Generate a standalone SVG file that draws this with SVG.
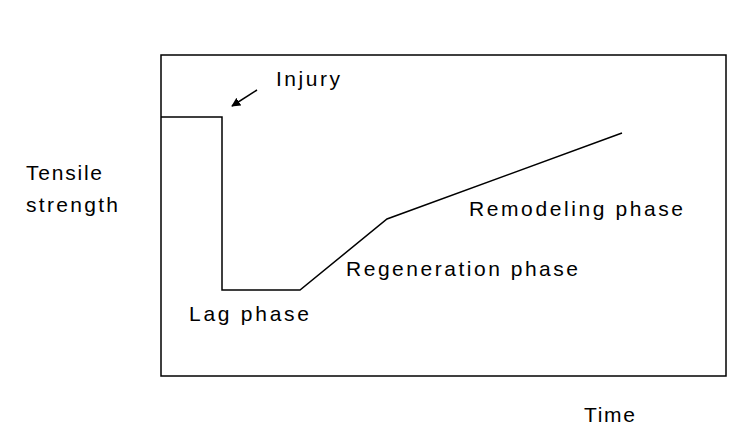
<svg xmlns="http://www.w3.org/2000/svg" width="729" height="441" viewBox="0 0 729 441">
<style>text{font-family:"Liberation Sans",Arial,sans-serif;font-size:21px;fill:#000}</style>
<defs><marker id="ah" viewBox="0 0 10 10" refX="9" refY="5" markerWidth="6" markerHeight="6" orient="auto"><path d="M0,0L10,5L0,10z" fill="#000"/></marker></defs>
<rect width="729" height="441" fill="#fff"/>
<rect id="frame" x="161" y="55" width="565" height="321" fill="none" stroke="#000" stroke-width="1.5"/>
<g id="connectors" fill="none" stroke="#000" stroke-width="1.5">
<polyline points="161,117 222,117 222,290 300,290 387,219 622,133"/>
<line x1="257" y1="90" x2="232" y2="106" marker-end="url(#ah)"/>
</g>
<g id="labels">
<text x="276" y="86" textLength="64">Injury</text>
<text x="26" y="180" textLength="76">Tensile</text>
<text x="26" y="212" textLength="92">strength</text>
<text x="189" y="321" textLength="120">Lag phase</text>
<text x="346" y="276" textLength="232">Regeneration phase</text>
<text x="469" y="216" textLength="214">Remodeling phase</text>
<text x="584" y="422" textLength="51">Time</text>
</g>
</svg>
